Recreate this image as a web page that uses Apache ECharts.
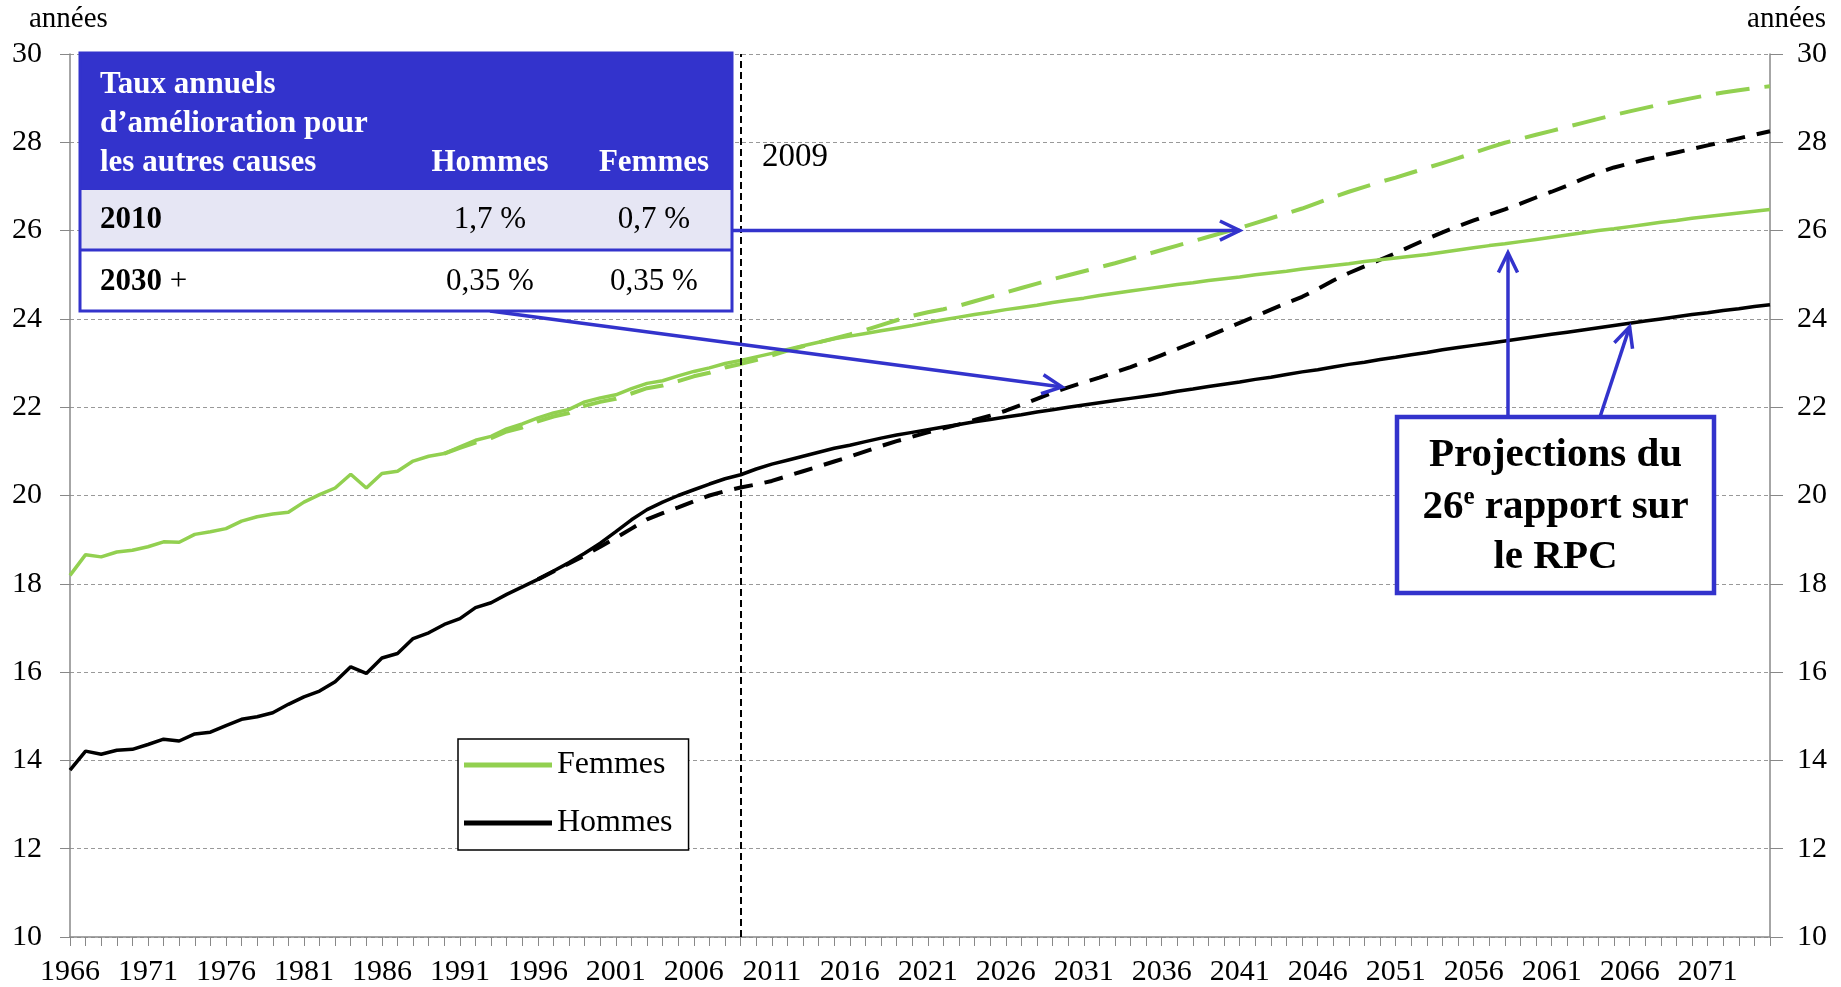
<!DOCTYPE html>
<html>
<head>
<meta charset="utf-8">
<script src="https://cdn.jsdelivr.net/npm/echarts@6/dist/echarts.min.js"></script>
<style>
  html, body { margin: 0; padding: 0; background: #fff; }
  #chart { width: 1841px; height: 987px; }
</style>
</head>
<body>
<div id="chart"></div>
<script>
// categories
var years = [];
for (var yr = 1966; yr <= 2075; yr++) years.push(String(yr));

// historical + projection (26e rapport), solid lines
var femmesHist = [18.19, 18.66, 18.61, 18.72, 18.76, 18.84, 18.95, 18.94, 19.12, 19.18,
  19.25, 19.42, 19.52, 19.58, 19.62, 19.85, 20.02, 20.17, 20.48, 20.17,
  20.50, 20.55, 20.78, 20.89, 20.95, 21.10, 21.25, 21.34, 21.51, 21.62,
  21.76, 21.87, 21.95, 22.12, 22.21, 22.28, 22.42, 22.54, 22.60, 22.71,
  22.81, 22.89, 22.99, 23.06];
var femmesProj26 = [23.14, 23.22, 23.31, 23.39, 23.47, 23.55, 23.61, 23.67, 23.73, 23.79,
  23.85, 23.92, 23.98, 24.04, 24.10, 24.15, 24.21, 24.26, 24.31, 24.37,
  24.42, 24.47, 24.53, 24.58, 24.63, 24.68, 24.73, 24.78, 24.82, 24.87,
  24.91, 24.95, 25.00, 25.04, 25.08, 25.13, 25.17, 25.21, 25.25, 25.30,
  25.34, 25.38, 25.42, 25.46, 25.51, 25.56, 25.61, 25.66, 25.70, 25.75,
  25.80, 25.85, 25.90, 25.95, 26.00, 26.04, 26.09, 26.14, 26.19, 26.23,
  26.28, 26.32, 26.36, 26.40, 26.44, 26.48];
var hommesHist = [13.78, 14.21, 14.14, 14.23, 14.25, 14.36, 14.48, 14.44, 14.60, 14.64,
  14.79, 14.93, 14.99, 15.08, 15.27, 15.44, 15.57, 15.78, 16.12, 15.97,
  16.32, 16.42, 16.76, 16.89, 17.08, 17.21, 17.46, 17.57, 17.76, 17.93,
  18.10, 18.29, 18.48, 18.69, 18.92, 19.18, 19.45, 19.68, 19.85, 20.00,
  20.13, 20.26, 20.38, 20.47];
var hommesProj26 = [20.60, 20.71, 20.80, 20.89, 20.98, 21.07, 21.14, 21.22, 21.30, 21.37,
  21.43, 21.49, 21.55, 21.61, 21.67, 21.72, 21.78, 21.83, 21.89, 21.94,
  22.00, 22.05, 22.10, 22.15, 22.20, 22.25, 22.30, 22.36, 22.41, 22.47,
  22.52, 22.57, 22.63, 22.68, 22.74, 22.80, 22.85, 22.91, 22.97, 23.02,
  23.08, 23.13, 23.19, 23.24, 23.30, 23.35, 23.40, 23.45, 23.50, 23.55,
  23.60, 23.65, 23.70, 23.75, 23.80, 23.85, 23.90, 23.95, 24.00, 24.05,
  24.10, 24.14, 24.19, 24.23, 24.28, 24.32];

// dashed lines (taux annuels d'amelioration), femmes from 1990, hommes from 1996
var femmesTauxStart = 1990;
var femmesTaux = [20.95, 21.08, 21.20, 21.30, 21.45, 21.54, 21.68, 21.79, 21.87, 22.03,
  22.12, 22.19, 22.31, 22.43, 22.49, 22.59, 22.70, 22.78, 22.90, 22.98,
  23.07, 23.17, 23.28, 23.38, 23.47, 23.56, 23.65, 23.75, 23.86, 23.97,
  24.07, 24.15, 24.22, 24.30, 24.40, 24.50, 24.60, 24.70, 24.80, 24.90,
  24.99, 25.08, 25.17, 25.26, 25.36, 25.46, 25.56, 25.66, 25.76, 25.86,
  25.96, 26.06, 26.17, 26.28, 26.39, 26.50, 26.63, 26.76, 26.88, 26.99,
  27.10, 27.20, 27.31, 27.42, 27.53, 27.64, 27.76, 27.88, 27.99, 28.08,
  28.17, 28.26, 28.35, 28.44, 28.53, 28.62, 28.70, 28.78, 28.86, 28.93,
  29.00, 29.07, 29.13, 29.18, 29.23, 29.27];
var hommesTauxStart = 1996;
var hommesTaux = [18.10, 18.28, 18.46, 18.64, 18.84, 19.04, 19.25, 19.46, 19.60, 19.73,
  19.87, 20.00, 20.10, 20.18, 20.25, 20.33, 20.44, 20.55, 20.66, 20.77,
  20.88, 21.00, 21.12, 21.23, 21.33, 21.43, 21.52, 21.61, 21.71, 21.81,
  21.92, 22.05, 22.19, 22.33, 22.45, 22.56, 22.67, 22.79, 22.91, 23.04,
  23.18, 23.32, 23.46, 23.61, 23.76, 23.91, 24.06, 24.21, 24.36, 24.50,
  24.68, 24.87, 25.04, 25.19, 25.34, 25.49, 25.65, 25.81, 25.96, 26.10,
  26.23, 26.36, 26.48, 26.61, 26.75, 26.88, 27.02, 27.17, 27.31, 27.43,
  27.52, 27.61, 27.69, 27.77, 27.85, 27.93, 28.01, 28.09, 28.17, 28.25];

var femmesData = femmesHist.concat(femmesProj26);
var hommesData = hommesHist.concat(hommesProj26);

function padFrom(startYear, arr) {
  var out = [];
  for (var i = 1966; i < startYear; i++) out.push(null);
  return out.concat(arr);
}

var FONT = 'Liberation Serif';
var BLUE = '#3333CC';
var GREEN = '#92D050';

var chart = echarts.init(document.getElementById('chart'));

chart.setOption({
  animation: false,
  backgroundColor: '#fff',
  grid: { left: 70, right: 71, top: 54, bottom: 50 },
  legend: {
    orient: 'vertical',
    left: 458,
    top: 739,
    data: ['Femmes', 'Hommes'],
    icon: 'rect',
    itemWidth: 88,
    itemHeight: 5,
    itemGap: 26,
    padding: [10, 16, 11, 6],
    borderColor: '#000',
    borderWidth: 1.5,
    backgroundColor: '#fff',
    textStyle: { fontFamily: FONT, fontSize: 32, color: '#000' }
  },
  xAxis: {
    type: 'category',
    data: years,
    boundaryGap: false,
    axisLine: { lineStyle: { color: '#888', width: 1.5 } },
    axisTick: { interval: 0, length: 9, lineStyle: { color: '#888' } },
    axisLabel: { interval: 4, margin: 20, fontFamily: FONT, fontSize: 30, color: '#000' },
    splitLine: { show: false }
  },
  yAxis: [{
    type: 'value',
    min: 10, max: 30, interval: 2,
    position: 'left',
    axisLine: { show: true, lineStyle: { color: '#888', width: 1.5 } },
    axisTick: { show: true, length: 10, lineStyle: { color: '#888' } },
    axisLabel: { margin: 28, fontFamily: FONT, fontSize: 30, color: '#000' },
    splitLine: { lineStyle: { color: '#999', type: [4, 3], width: 1 } }
  }, {
    type: 'value',
    min: 10, max: 30, interval: 2,
    position: 'right',
    axisLine: { show: true, lineStyle: { color: '#888', width: 1.5 } },
    axisTick: { show: true, length: 13, lineStyle: { color: '#888' } },
    axisLabel: { margin: 27, fontFamily: FONT, fontSize: 30, color: '#000' },
    splitLine: { show: false }
  }],
  series: [{
    name: 'Femmes - taux',
    type: 'line',
    data: padFrom(femmesTauxStart, femmesTaux),
    showSymbol: false,
    lineStyle: { color: GREEN, width: 4, type: [34, 15] },
    itemStyle: { color: GREEN },
    z: 2
  }, {
    name: 'Hommes - taux',
    type: 'line',
    data: padFrom(hommesTauxStart, hommesTaux),
    showSymbol: false,
    lineStyle: { color: '#000', width: 4, type: [19, 12] },
    itemStyle: { color: '#000' },
    z: 2
  }, {
    name: 'Femmes',
    type: 'line',
    data: femmesData,
    showSymbol: false,
    lineStyle: { color: GREEN, width: 3.5 },
    itemStyle: { color: GREEN },
    z: 3,
    markLine: {
      silent: true,
      symbol: ['none', 'none'],
      label: { show: false },
      lineStyle: { color: '#000', type: [7, 4], width: 2 },
      data: [{ xAxis: '2009' }]
    }
  }, {
    name: 'Hommes',
    type: 'line',
    data: hommesData,
    showSymbol: false,
    lineStyle: { color: '#000', width: 3.5 },
    itemStyle: { color: '#000' },
    z: 3
  }]
});

// ---- annotations ----
function pt(yearF, val) {
  var i0 = Math.floor(yearF) - 1966, f = yearF - Math.floor(yearF);
  var a = chart.convertToPixel({ xAxisIndex: 0, yAxisIndex: 0 }, [i0, val]);
  var b = chart.convertToPixel({ xAxisIndex: 0, yAxisIndex: 0 }, [i0 + 1, val]);
  return [a[0] + (b[0] - a[0]) * f, a[1]];
}

function arrow(from, tip) {
  var ang = Math.atan2(tip[1] - from[1], tip[0] - from[0]);
  var L = 22, w = 0.45;
  var p1 = [tip[0] - L * Math.cos(ang - w), tip[1] - L * Math.sin(ang - w)];
  var p2 = [tip[0] - L * Math.cos(ang + w), tip[1] - L * Math.sin(ang + w)];
  return [{
    type: 'polyline', z: 20,
    shape: { points: [from, tip] },
    style: { stroke: BLUE, lineWidth: 3.5, fill: null }
  }, {
    type: 'polyline', z: 20,
    shape: { points: [p1, tip, p2] },
    style: { stroke: BLUE, lineWidth: 3.5, fill: null, lineJoin: 'miter' }
  }];
}

function txt(x, y, text, font, color, align) {
  return {
    type: 'text', z: 30, x: x, y: y,
    style: { text: text, font: font, fill: color, textAlign: align || 'left', textVerticalAlign: 'middle' }
  };
}

var ctx = document.createElement('canvas').getContext('2d');
function measure(t, font) { ctx.font = font; return ctx.measureText(t).width; }

var tL = 80, tR = 732, tTop = 53, hBot = 190, r1Bot = 250, tBot = 311;
var colH = 490, colF = 654;
var fb = 'bold 31px ' + FONT, fr = '31px ' + FONT;

var g = [];
g.push(txt(29, 19, 'années', '29px ' + FONT, '#000', 'left'));
g.push(txt(1826, 19, 'années', '29px ' + FONT, '#000', 'right'));
g.push(txt(762, 157, '2009', '33px ' + FONT, '#000', 'left'));

// table
g.push({ type: 'rect', z: 25, shape: { x: tL, y: tTop, width: tR - tL, height: hBot - tTop }, style: { fill: BLUE } });
g.push({ type: 'rect', z: 25, shape: { x: tL, y: hBot, width: tR - tL, height: r1Bot - hBot }, style: { fill: '#E6E6F4' } });
g.push({ type: 'rect', z: 25, shape: { x: tL, y: r1Bot, width: tR - tL, height: tBot - r1Bot }, style: { fill: '#fff' } });
g.push({ type: 'line', z: 26, shape: { x1: tL, y1: r1Bot, x2: tR, y2: r1Bot }, style: { stroke: BLUE, lineWidth: 3 } });
g.push({ type: 'rect', z: 26, shape: { x: tL, y: tTop, width: tR - tL, height: tBot - tTop }, style: { fill: null, stroke: BLUE, lineWidth: 3 } });
g.push(txt(100, 85, 'Taux annuels', fb, '#fff'));
g.push(txt(100, 124, 'd’amélioration pour', fb, '#fff'));
g.push(txt(100, 163, 'les autres causes', fb, '#fff'));
g.push(txt(colH, 163, 'Hommes', fb, '#fff', 'center'));
g.push(txt(colF, 163, 'Femmes', fb, '#fff', 'center'));
g.push(txt(100, 220, '2010', fb, '#000'));
g.push(txt(colH, 220, '1,7 %', fr, '#000', 'center'));
g.push(txt(colF, 220, '0,7 %', fr, '#000', 'center'));
g.push(txt(100, 282, '2030', fb, '#000'));
g.push(txt(100 + measure('2030', fb), 282, ' +', fr, '#000'));
g.push(txt(colH, 282, '0,35 %', fr, '#000', 'center'));
g.push(txt(colF, 282, '0,35 %', fr, '#000', 'center'));

// box
var bL = 1397, bR = 1714, bT = 417, bB = 593, bC = (bL + bR) / 2;
var fbox = 'bold 41px ' + FONT, fsup = 'bold 25px ' + FONT;
g.push({ type: 'rect', z: 25, shape: { x: bL, y: bT, width: bR - bL, height: bB - bT }, style: { fill: '#fff', stroke: BLUE, lineWidth: 4.5 } });
g.push(txt(bC, 455, 'Projections du', fbox, '#000', 'center'));
var w1 = measure('26', fbox), w2 = measure('e', fsup), w3 = measure(' rapport sur', fbox);
var sx = bC - (w1 + w2 + w3) / 2;
g.push(txt(sx, 507, '26', fbox, '#000'));
g.push(txt(sx + w1, 498, 'e', fsup, '#000'));
g.push(txt(sx + w1 + w2, 507, ' rapport sur', fbox, '#000'));
g.push(txt(bC, 557, 'le RPC', fbox, '#000', 'center'));

// arrows
var tip1 = pt(2041, 26);
g = g.concat(arrow([tR, tip1[1]], tip1));
var tip2 = pt(2029.6, 22.46);
g = g.concat(arrow([colH, tBot], tip2));
var tip3 = pt(2058.2, 25.5);
g = g.concat(arrow([tip3[0], bT], tip3));
var tip4 = pt(2066, 23.82);
g = g.concat(arrow([1600, bT], tip4));

chart.setOption({ graphic: g });
</script>
</body>
</html>
